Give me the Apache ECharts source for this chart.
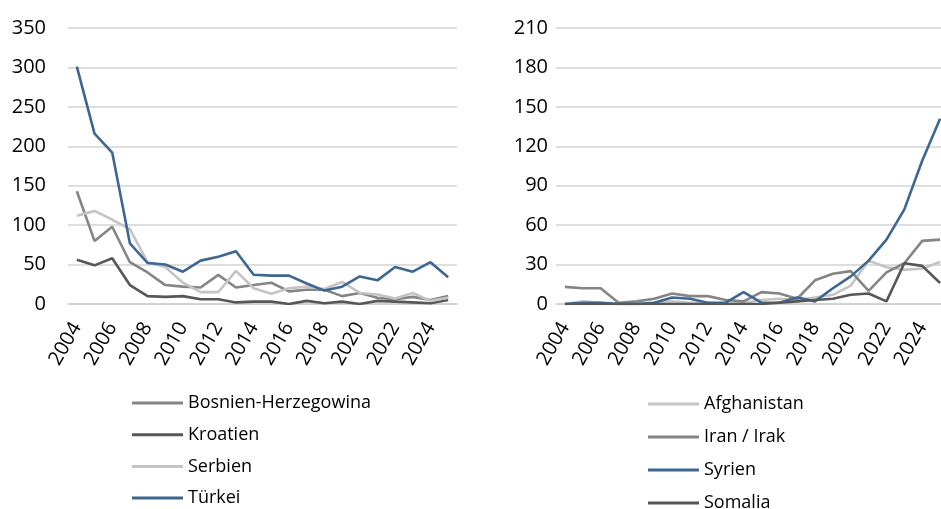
<!DOCTYPE html>
<html>
<head>
<meta charset="utf-8">
<script src="https://cdn.jsdelivr.net/npm/echarts@6/dist/echarts.min.js"></script>
<style>
  html, body { margin: 0; padding: 0; background: #fff; overflow: hidden; }
  /* etwas breiter als das Fenster: rechtes Diagramm läuft über den Rand hinaus */
  #chart { width: 960px; height: 509px; }
</style>
</head>
<body>
<div id="chart"></div>
<script>
// Jahre (x-Achse)
const years = ['2004', '2005', '2006', '2007', '2008', '2009', '2010', '2011', '2012', '2013', '2014',
    '2015', '2016', '2017', '2018', '2019', '2020', '2021', '2022', '2023', '2024', '2025'];

// linkes Diagramm
const bosnien = [143, 80, 98, 53, 40, 24, 22, 21, 37, 21, 24, 27, 16, 18, 18, 10, 14, 8, 6, 9, 5, 10];
const kroatien = [56, 49, 58, 24, 10, 9, 10, 6, 6, 2, 3, 3, 0, 4, 1, 3, 0, 4, 3, 2, 1, 5];
const serbien = [112, 118, 107, 95, 53, 47, 27, 15, 15, 42, 20, 13, 20, 22, 19, 28, 14, 12, 7, 14, 4, 8];
const tuerkei = [301, 216, 192, 77, 52, 50, 41, 55, 60, 67, 37, 36, 36, 26, 17, 22, 35, 30, 47, 41, 53, 34];

// rechtes Diagramm
const afghanistan = [0, 2, 1, 0, 0, 1, 2, 1, 1, 0, 1, 3, 4, 3, 5, 7, 14, 33, 28, 26, 27, 32];
const iranIrak = [13, 12, 12, 1, 2, 4, 8, 6, 6, 3, 2, 9, 8, 4, 18, 23, 25, 10, 24, 31, 48, 49];
const syrien = [0, 1, 1, 0, 0, 1, 5, 4, 1, 1, 9, 1, 1, 5, 2, 12, 21, 33, 49, 72, 109, 141];
const somalia = [0, 0, 0, 0, 0, 0, 0, 0, 0, 0, 0, 0, 1, 2, 3, 4, 7, 8, 2, 31, 29, 16];

const leftNames = ['Bosnien-Herzegowina', 'Kroatien', 'Serbien', 'Türkei'];
const rightNames = ['Afghanistan', 'Iran / Irak', 'Syrien', 'Somalia'];

const FONT = 'Open Sans';
const BLUE = '#3d6690';
const MID = '#858585';
const DARK = '#575757';
const LIGHT = '#c4c4c4';

function xAxisFor(gridIndex) {
    return {
        type: 'category',
        gridIndex: gridIndex,
        boundaryGap: true,
        data: years,
        axisTick: { show: false },
        axisLine: { show: true, lineStyle: { color: '#cfcfcf', width: 1.5 } },
        axisLabel: {
            rotate: 60, interval: 1, margin: 20,
            fontFamily: FONT, fontSize: 20, color: '#000'
        }
    }
}

function yAxisFor(gridIndex, max, interval, margin) {
    return {
        type: 'value',
        gridIndex: gridIndex,
        min: 0, max: max, interval: interval,
        axisLine: { show: false },
        axisTick: { show: false },
        splitLine: { lineStyle: { color: '#d3d3d3', width: 1.5 } },
        axisLabel: { margin: margin, fontFamily: FONT, fontSize: 20, color: '#000' }
    }
}

function lineSeries(name, data, color, axisIndex) {
    return {
        name: name,
        type: 'line',
        xAxisIndex: axisIndex,
        yAxisIndex: axisIndex,
        data: data,
        symbol: 'none',
        showSymbol: false,
        lineStyle: { color: color, width: 2.6 },
        itemStyle: { color: color },
        animation: false
    }
}

// eine Legende pro Eintrag, damit nichts umbricht
function legendItems(names, left, top, step) {
    return names.map((name, i) => ({
        data: [name],
        left: left,
        top: top + i * step,
        padding: 0,
        icon: 'rect',
        itemWidth: 51,
        itemHeight: 3,
        textStyle: { fontFamily: FONT, fontSize: 18, color: '#000' }
    }))
}

const myChart = echarts.init(document.getElementById('chart'));
const option = {
    backgroundColor: '#fff',
    animation: false,
    grid: [
        { left: 68, top: 28, width: 389, height: 276, containLabel: false },
        { left: 556, top: 28, width: 393, height: 276, containLabel: false }
    ],
    xAxis: [xAxisFor(0), xAxisFor(1)],
    yAxis: [yAxisFor(0, 350, 50, 22), yAxisFor(1, 210, 30, 8)],
    legend: legendItems(leftNames, 132, 394, 31.7).concat(legendItems(rightNames, 648, 395, 33)),
    series: [
        lineSeries('Bosnien-Herzegowina', bosnien, MID, 0),
        lineSeries('Kroatien', kroatien, DARK, 0),
        lineSeries('Serbien', serbien, LIGHT, 0),
        lineSeries('Türkei', tuerkei, BLUE, 0),
        lineSeries('Afghanistan', afghanistan, LIGHT, 1),
        lineSeries('Iran / Irak', iranIrak, MID, 1),
        lineSeries('Syrien', syrien, BLUE, 1),
        lineSeries('Somalia', somalia, DARK, 1)
    ]
};
myChart.setOption(option);
</script>
</body>
</html>
